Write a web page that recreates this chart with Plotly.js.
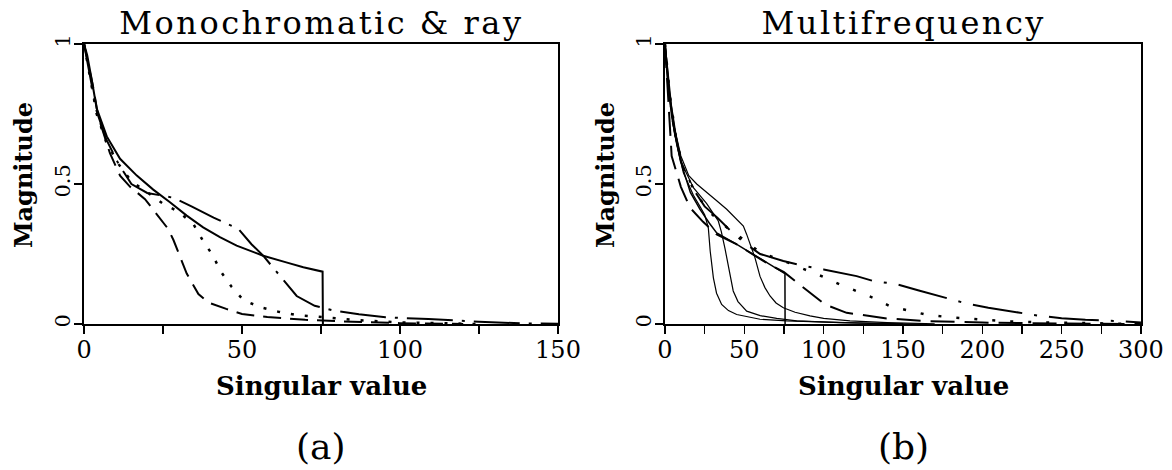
<!DOCTYPE html>
<html>
<head>
<meta charset="utf-8">
<script src="https://cdn.plot.ly/plotly-3.0.1.min.js"></script>
<style>
html,body{margin:0;padding:0;background:#fff;}
#chart{width:1172px;height:470px;}
g.annotation[data-index="0"] text, g.annotation[data-index="1"] text{letter-spacing:2.5px;}
</style>
</head>
<body>
<div id="chart"></div>
<script>
// ---------- Panel (a): Monochromatic & ray ----------
const aSolidX = [0, 1, 2.4, 4, 7.2, 11.4, 16.7, 21.9, 27.2, 32.5, 37.7, 43, 48.3, 56.7, 64, 69.4, 75.5, 75.6];
const aSolidY = [1, 0.96, 0.875, 0.77, 0.67, 0.59, 0.53, 0.48, 0.435, 0.387, 0.345, 0.31, 0.28, 0.244, 0.22, 0.2025, 0.187, 0];

const aLongDashX = [0, 1.9, 3, 4.5, 6.1, 8.2, 11.4, 14.6, 19.3, 21.8, 26.6, 28.3, 31, 32.5, 36.2, 39.3, 45, 50, 58, 70, 85, 100, 120];
const aLongDashY = [1, 0.9, 0.84, 0.74, 0.68, 0.61, 0.53, 0.49, 0.446, 0.41, 0.34, 0.3, 0.226, 0.18, 0.107, 0.077, 0.054, 0.036, 0.025, 0.015, 0.008, 0.003, 0];

const aDashDotX = [0, 2, 4, 7, 11, 15, 20, 24, 28.6, 34, 41, 48.8, 53, 56.7, 60, 64, 67.3, 73, 79, 87, 95.4, 102, 109, 125, 140, 150];
const aDashDotY = [1, 0.88, 0.76, 0.66, 0.57, 0.5, 0.468, 0.46, 0.45, 0.42, 0.38, 0.34, 0.285, 0.244, 0.2, 0.145, 0.1, 0.065, 0.048, 0.035, 0.024, 0.021, 0.018, 0.008, 0.002, 0.001];

const aDotX = [0, 2, 4, 7, 11, 15, 20, 25, 30, 34.6, 37.5, 40.7, 43.3, 46.7, 50.4, 55.7, 61.5, 67.3, 73, 85, 100, 115, 125];
const aDotY = [1, 0.87, 0.75, 0.65, 0.57, 0.51, 0.47, 0.43, 0.4, 0.357, 0.3, 0.246, 0.187, 0.133, 0.086, 0.06, 0.044, 0.032, 0.027, 0.015, 0.006, 0.002, 0];

// ---------- Panel (b): Multifrequency ----------
const bSolid1X = [0, 1, 2.5, 4.2, 7.4, 11.6, 17.9, 22, 25, 27.3, 28.5, 30.5, 32.5, 35.7, 40, 45.2, 59.9, 76.7, 100, 130, 160];
const bSolid1Y = [1, 0.93, 0.82, 0.74, 0.64, 0.54, 0.46, 0.42, 0.39, 0.344, 0.26, 0.165, 0.11, 0.07, 0.048, 0.034, 0.017, 0.011, 0.006, 0.002, 0];

const bSolid2X = [0, 1, 3, 6, 10, 17.9, 26.3, 33.6, 35.5, 37.8, 40, 43, 46, 51.5, 60, 70.4, 83, 110, 150];
const bSolid2Y = [1, 0.94, 0.8, 0.68, 0.58, 0.487, 0.43, 0.368, 0.33, 0.27, 0.2, 0.118, 0.08, 0.046, 0.03, 0.02, 0.011, 0.005, 0.001];

const bSolid3X = [0, 1, 3, 6, 10, 15, 20, 26, 32.6, 38.9, 45.2, 49.4, 51.5, 53.6, 56.7, 59.9, 63, 66.2, 70, 74.6, 82, 91.4, 100, 116.6, 140, 170];
const bSolid3Y = [1, 0.95, 0.82, 0.7, 0.6, 0.53, 0.5, 0.47, 0.44, 0.41, 0.375, 0.35, 0.32, 0.285, 0.237, 0.17, 0.13, 0.1, 0.075, 0.058, 0.042, 0.029, 0.02, 0.011, 0.005, 0.001];

const bSolid4X = [0, 2, 4, 7, 11, 16, 22, 28, 32.6, 45, 53.6, 65, 75.6, 75.7];
const bSolid4Y = [1, 0.9, 0.78, 0.67, 0.56, 0.47, 0.41, 0.36, 0.325, 0.285, 0.255, 0.215, 0.18, 0];

const bLongDashX = [0, 2, 4.2, 10, 15.8, 24, 32.6, 45, 55, 65, 75, 82, 95.6, 100.8, 114.5, 125, 139.7, 163, 200, 250, 300];
const bLongDashY = [1, 0.8, 0.6, 0.49, 0.415, 0.365, 0.32, 0.285, 0.25, 0.215, 0.185, 0.154, 0.094, 0.07, 0.04, 0.032, 0.02, 0.011, 0.005, 0.002, 0];

const bDashDotX = [0, 2, 5, 10, 18, 25, 33, 40, 50, 60, 74.6, 88, 100, 120.8, 131, 146, 160, 178.6, 190, 203.8, 220, 236.3, 250, 265, 287, 300];
const bDashDotY = [1, 0.85, 0.72, 0.58, 0.48, 0.42, 0.38, 0.34, 0.29, 0.25, 0.225, 0.207, 0.195, 0.171, 0.154, 0.142, 0.12, 0.092, 0.073, 0.058, 0.043, 0.029, 0.021, 0.015, 0.01, 0.005];

const bDotX = [0, 3, 7, 12, 20, 30, 40, 50, 60, 75, 88, 100, 110, 121, 131, 142, 154, 165, 178, 190, 202, 214, 237, 270, 300];
const bDotY = [1, 0.82, 0.66, 0.55, 0.46, 0.39, 0.34, 0.3, 0.255, 0.225, 0.195, 0.168, 0.142, 0.116, 0.094, 0.063, 0.046, 0.033, 0.025, 0.02, 0.014, 0.01, 0.006, 0.002, 0];

// ---------- Text ----------
const titles = ["Monochromatic &amp; ray", "Multifrequency"];
const panelLabels = ["(a)", "(b)"];
const xTitle = "Singular value";
const yTitle = "Magnitude";
const aTickVals = [0, 25, 50, 75, 100, 125, 150];
const aTickText = ["0", "", "50", "", "100", "", "150"];
const bTickVals = [0, 25, 50, 75, 100, 125, 150, 175, 200, 225, 250, 275, 300];
const bTickText = ["0", "", "50", "", "100", "", "150", "", "200", "", "250", "", "300"];
const yTickVals = [0, 0.5, 1];
const yTickText = ["0", "0.5", "1"];

function tr(x, y, xa, ya, width, dash) {
  return {x: x, y: y, xaxis: xa, yaxis: ya, type: 'scatter', mode: 'lines',
          line: {color: '#000', width: width, dash: dash}, hoverinfo: 'skip', showlegend: false};
}

const data = [
  tr(aSolidX, aSolidY, 'x', 'y', 2, 'solid'),
  tr(aLongDashX, aLongDashY, 'x', 'y', 2, '18px,9px'),
  tr(aDashDotX, aDashDotY, 'x', 'y', 2, '46px,9px,3px,9px'),
  tr(aDotX, aDotY, 'x', 'y', 2.5, '3px,11px'),
  tr(bSolid1X, bSolid1Y, 'x2', 'y2', 1.2, 'solid'),
  tr(bSolid2X, bSolid2Y, 'x2', 'y2', 1.2, 'solid'),
  tr(bSolid3X, bSolid3Y, 'x2', 'y2', 1.2, 'solid'),
  tr(bSolid4X, bSolid4Y, 'x2', 'y2', 1.5, 'solid'),
  tr(bLongDashX, bLongDashY, 'x2', 'y2', 2, '24px,10px'),
  tr(bDashDotX, bDashDotY, 'x2', 'y2', 2, '50px,12px,3px,12px'),
  tr(bDotX, bDotY, 'x2', 'y2', 2.5, '3px,15px')
];

const tickFontX = {family: 'DejaVu Serif', size: 24, color: '#000'};
const tickFontY = {family: 'DejaVu Serif', size: 21, color: '#000'};

function xax(domain, vals, text, range) {
  return {domain: domain, range: range, tickmode: 'array', tickvals: vals, ticktext: text,
          ticks: 'outside', ticklen: 8, tickwidth: 1.5, tickcolor: '#000', ticklabelstandoff: -5,
          showline: true, linecolor: '#000', linewidth: 2, mirror: true,
          showgrid: false, zeroline: false, tickfont: tickFontX, fixedrange: true};
}
function yax(anchor) {
  return {domain: [0.3106, 0.9064], range: [0, 1], anchor: anchor, tickmode: 'array',
          tickvals: yTickVals, ticktext: yTickText, tickangle: -90, ticklabelstandoff: -4,
          ticks: 'outside', ticklen: 8, tickwidth: 1.5, tickcolor: '#000',
          showline: true, linecolor: '#000', linewidth: 2, mirror: true,
          showgrid: false, zeroline: false, tickfont: tickFontY, fixedrange: true};
}

const titleFont = {family: 'DejaVu Serif', size: 32, color: '#000'};
const xLabFont = {family: 'DejaVu Serif', size: 26, color: '#000', weight: 'bold'};
const yLabFont = {family: 'DejaVu Serif', size: 24, color: '#000', weight: 'bold'};
const panelFont = {family: 'DejaVu Serif', size: 36, color: '#000'};

const layout = {
  width: 1172, height: 470,
  margin: {l: 0, r: 0, t: 0, b: 0},
  paper_bgcolor: '#fff', plot_bgcolor: '#fff',
  showlegend: false,
  xaxis: Object.assign(xax([0.0717, 0.4761], aTickVals, aTickText, [0, 150]), {anchor: 'y'}),
  yaxis: yax('x'),
  xaxis2: Object.assign(xax([0.5674, 0.9735], bTickVals, bTickText, [0, 300]), {anchor: 'y2'}),
  yaxis2: yax('x2'),
  annotations: [
    {text: titles[0], xref: 'paper', yref: 'paper', x: 0.2739, y: 0.951, showarrow: false, font: titleFont, xanchor: 'center', yanchor: 'middle'},
    {text: titles[1], xref: 'paper', yref: 'paper', x: 0.7705, y: 0.951, showarrow: false, font: titleFont, xanchor: 'center', yanchor: 'middle'},
    {text: xTitle, xref: 'paper', yref: 'paper', x: 0.2739, y: (470 - 386) / 470, showarrow: false, font: xLabFont, xanchor: 'center', yanchor: 'middle'},
    {text: xTitle, xref: 'paper', yref: 'paper', x: 0.7705, y: (470 - 386) / 470, showarrow: false, font: xLabFont, xanchor: 'center', yanchor: 'middle'},
    {text: yTitle, xref: 'paper', yref: 'paper', x: 23 / 1172, y: (470 - 175) / 470, textangle: -90, showarrow: false, font: yLabFont, xanchor: 'center', yanchor: 'middle'},
    {text: yTitle, xref: 'paper', yref: 'paper', x: 605 / 1172, y: (470 - 175) / 470, textangle: -90, showarrow: false, font: yLabFont, xanchor: 'center', yanchor: 'middle'},
    {text: panelLabels[0], xref: 'paper', yref: 'paper', x: 0.2739, y: (470 - 446) / 470, showarrow: false, font: panelFont, xanchor: 'center', yanchor: 'middle'},
    {text: panelLabels[1], xref: 'paper', yref: 'paper', x: 0.7705, y: (470 - 446) / 470, showarrow: false, font: panelFont, xanchor: 'center', yanchor: 'middle'}
  ]
};

Plotly.newPlot('chart', data, layout, {staticPlot: true, displayModeBar: false});
</script>
</body>
</html>
